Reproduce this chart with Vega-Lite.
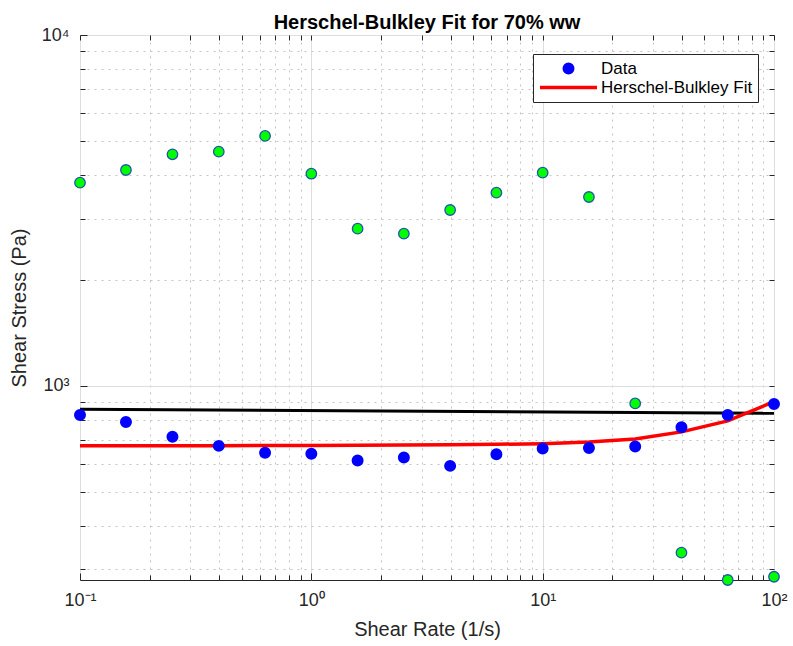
{
  "$schema": "https://vega.github.io/schema/vega-lite/v6.json",
  "width": 694,
  "height": 545,
  "autosize": "none",
  "padding": {"left": 80, "top": 35, "right": 19, "bottom": 66},
  "background": "white",
  "title": {
    "text": "Herschel-Bulkley Fit for 70% ww",
    "font": "Liberation Sans",
    "fontSize": 20,
    "fontWeight": "bold",
    "color": "#000000",
    "anchor": "middle",
    "frame": "group",
    "offset": -7
  },
  "config": {
    "view": {"stroke": "#262626", "strokeWidth": 1},
    "font": "Liberation Sans",
    "axis": {
      "labelFont": "Liberation Sans",
      "titleFont": "Liberation Sans",
      "labelColor": "#262626",
      "titleColor": "#262626",
      "tickColor": "#262626",
      "domain": false
    },
    "legend": {
      "title": null,
      "orient": "none",
      "legendX": 453,
      "legendY": 19,
      "direction": "vertical",
      "columns": 1,
      "strokeColor": "#262626",
      "fillColor": "#ffffff",
      "padding": 5,
      "labelFont": "Liberation Sans",
      "labelFontSize": 17,
      "labelColor": "#000000",
      "symbolOffset": 0,
      "labelOffset": 2,
      "clipHeight": 19,
      "rowPadding": 0,
      "symbolStrokeWidth": 3.5,
      "symbolOpacity": 1
    }
  },
  "datasets": {
    "flow_curve": [
      {"rate": 0.1, "stress": 827},
      {"rate": 0.158, "stress": 790},
      {"rate": 0.251, "stress": 717},
      {"rate": 0.398, "stress": 675},
      {"rate": 0.631, "stress": 645},
      {"rate": 1.0, "stress": 641},
      {"rate": 1.585, "stress": 613},
      {"rate": 2.512, "stress": 625},
      {"rate": 3.981, "stress": 592},
      {"rate": 6.31, "stress": 639},
      {"rate": 10.0, "stress": 663},
      {"rate": 15.85, "stress": 666},
      {"rate": 25.12, "stress": 672},
      {"rate": 39.81, "stress": 763},
      {"rate": 63.1, "stress": 827},
      {"rate": 100.0, "stress": 889}
    ],
    "repeat_run": [
      {"rate": 0.1, "stress": 3795},
      {"rate": 0.158, "stress": 4124},
      {"rate": 0.251, "stress": 4571},
      {"rate": 0.398, "stress": 4652},
      {"rate": 0.631, "stress": 5157},
      {"rate": 1.0, "stress": 4025},
      {"rate": 1.585, "stress": 2807},
      {"rate": 2.512, "stress": 2716},
      {"rate": 3.981, "stress": 3172},
      {"rate": 6.31, "stress": 3554},
      {"rate": 10.0, "stress": 4052},
      {"rate": 15.85, "stress": 3455},
      {"rate": 25.12, "stress": 892},
      {"rate": 39.81, "stress": 335},
      {"rate": 63.1, "stress": 280},
      {"rate": 100.0, "stress": 286}
    ],
    "hb_fit": [
      {"rate": 0.1, "stress": 676},
      {"rate": 0.158, "stress": 676},
      {"rate": 0.251, "stress": 676},
      {"rate": 0.398, "stress": 676},
      {"rate": 0.631, "stress": 677},
      {"rate": 1.0, "stress": 677},
      {"rate": 1.585, "stress": 678},
      {"rate": 2.512, "stress": 679},
      {"rate": 3.981, "stress": 680},
      {"rate": 6.31, "stress": 682},
      {"rate": 10.0, "stress": 685},
      {"rate": 15.85, "stress": 692},
      {"rate": 25.12, "stress": 706},
      {"rate": 39.81, "stress": 740},
      {"rate": 63.1, "stress": 795},
      {"rate": 100.0, "stress": 902}
    ],
    "power_fit": [
      {"rate": 0.1, "stress": 858},
      {"rate": 100.0, "stress": 836}
    ]
  },
  "layer": [
    {
      "data": {"name": "power_fit"},
      "mark": {"type": "line", "color": "#000000", "strokeWidth": 3, "clip": false},
      "encoding": {
        "x": {
          "field": "rate", "type": "quantitative",
          "scale": {"type": "log", "domain": [0.1, 100], "nice": false},
          "axis": {
            "orient": "bottom", "title": null, "labels": false,
            "values": [0.2, 0.3, 0.4, 0.5, 0.6, 0.7, 0.8, 0.9, 2, 3, 4, 5, 6, 7, 8, 9, 20, 30, 40, 50, 60, 70, 80, 90],
            "grid": true, "gridColor": "#c4c4c4", "gridDash": [2, 5], "gridWidth": 1,
            "ticks": true, "tickSize": -5, "tickColor": "#262626"
          }
        },
        "y": {
          "field": "stress", "type": "quantitative",
          "scale": {"type": "log", "domain": [280, 10000], "nice": false},
          "axis": {
            "orient": "left", "title": null, "labels": false,
            "values": [300, 400, 500, 600, 700, 800, 900, 2000, 3000, 4000, 5000, 6000, 7000, 8000, 9000],
            "grid": true, "gridColor": "#c4c4c4", "gridDash": [2, 5], "gridWidth": 1,
            "ticks": true, "tickSize": -5, "tickColor": "#262626"
          }
        }
      }
    },
    {
      "data": {"name": "hb_fit"},
      "mark": {"type": "line", "color": "#ff0000", "strokeWidth": 3.5, "clip": false},
      "encoding": {
        "x": {
          "field": "rate", "type": "quantitative",
          "scale": {"type": "log", "domain": [0.1, 100], "nice": false},
          "axis": {
            "orient": "top", "title": null, "labels": false, "grid": false,
            "values": [0.1, 0.2, 0.3, 0.4, 0.5, 0.6, 0.7, 0.8, 0.9, 1, 2, 3, 4, 5, 6, 7, 8, 9, 10, 20, 30, 40, 50, 60, 70, 80, 90, 100],
            "ticks": true, "tickSize": -5
          }
        },
        "y": {
          "field": "stress", "type": "quantitative",
          "scale": {"type": "log", "domain": [280, 10000], "nice": false},
          "axis": {
            "orient": "right", "title": null, "labels": false, "grid": false,
            "values": [300, 400, 500, 600, 700, 800, 900, 1000, 2000, 3000, 4000, 5000, 6000, 7000, 8000, 9000, 10000],
            "ticks": true, "tickSize": -5
          }
        }
      }
    },
    {
      "data": {"name": "repeat_run"},
      "mark": {"type": "point", "shape": "circle", "filled": true, "fill": "#00ff00", "stroke": "#2255aa", "strokeWidth": 1.3, "size": 110, "opacity": 1, "clip": false},
      "encoding": {
        "x": {
          "field": "rate", "type": "quantitative",
          "scale": {"type": "log", "domain": [0.1, 100], "nice": false},
          "axis": {
            "orient": "bottom", "title": "Shear Rate (1/s)", "titleFontSize": 20, "titleFontWeight": "normal", "titlePadding": 10,
            "values": [0.1, 1, 10, 100],
            "labelExpr": "datum.value < 0.5 ? '10⁻¹' : datum.value < 5 ? '10⁰' : datum.value < 50 ? '10¹' : '10²'",
            "labelFontSize": 18, "labelPadding": 18, "labelFlush": false,
            "grid": true, "gridColor": "#dedede", "gridWidth": 1,
            "ticks": true, "tickSize": -7
          }
        },
        "y": {
          "field": "stress", "type": "quantitative",
          "scale": {"type": "log", "domain": [280, 10000], "nice": false},
          "axis": {
            "orient": "left", "title": "Shear Stress (Pa)", "titleFontSize": 20, "titleFontWeight": "normal", "titlePadding": 12,
            "values": [1000, 10000],
            "labelExpr": "datum.value < 5000 ? '10³' : '10⁴'",
            "labelFontSize": 18, "labelPadding": 18, "labelFlush": false,
            "grid": true, "gridColor": "#dedede", "gridWidth": 1,
            "ticks": true, "tickSize": -7
          }
        }
      }
    },
    {
      "data": {"name": "flow_curve"},
      "mark": {"type": "point", "filled": false, "fill": "#0000ff", "fillOpacity": 1, "strokeWidth": 3.5, "opacity": 1, "clip": false},
      "encoding": {
        "x": {
          "field": "rate", "type": "quantitative",
          "scale": {"type": "log", "domain": [0.1, 100], "nice": false},
          "axis": null
        },
        "y": {
          "field": "stress", "type": "quantitative",
          "scale": {"type": "log", "domain": [280, 10000], "nice": false},
          "axis": null
        },
        "color": {
          "datum": "Data", "type": "nominal",
          "scale": {"domain": ["Data", "Herschel-Bulkley Fit"], "range": ["#0000ff", "#ff0000"]}
        },
        "shape": {
          "datum": "Data", "type": "nominal",
          "scale": {"domain": ["Data", "Herschel-Bulkley Fit"], "range": ["circle", "stroke"]}
        },
        "size": {
          "datum": "Data", "type": "nominal",
          "scale": {"type": "ordinal", "domain": ["Data", "Herschel-Bulkley Fit"], "range": [72, 3250]}
        }
      }
    }
  ],
  "resolve": {"axis": {"x": "independent", "y": "independent"}}
}
